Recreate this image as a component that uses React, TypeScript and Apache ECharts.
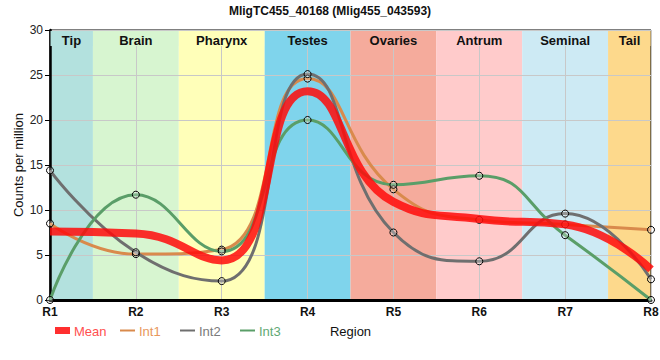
import React, { useEffect, useRef } from "react";
import * as echarts from "echarts";

const categories = ["R1", "R2", "R3", "R4", "R5", "R6", "R7", "R8"];
const meanValues = [7.6, 7.4, 4.4, 23.2, 10.9, 9.0, 8.4, 3.4];
const int1Values = [8.5, 5.1, 5.6, 24.6, 12.3, 8.9, 8.4, 7.8];
const int2Values = [14.4, 5.3, 2.1, 25.1, 7.5, 4.3, 9.6, 2.3];
const int3Values = [0, 11.7, 5.4, 20.0, 12.8, 13.8, 7.2, 0];
const regionNames = ["Tip", "Brain", "Pharynx", "Testes", "Ovaries", "Antrum", "Seminal", "Tail"];
const regionColors = ["#b3e1de", "#d7f5d0", "#ffffb9", "#7fd4ec", "#f5ab9c", "#ffcbcb", "#cdeaf4", "#fdd98c"];
const yTicks = { min: 0, max: 30, interval: 5 };

const FONT = "'Liberation Sans', Arial, sans-serif";
const lineColors = { mean: "rgba(255,10,10,0.85)", int1: "#d98a4c", int2: "#6f6f6f", int3: "#5a9e68" };
const textColors = { mean: "#ff4f4f", int1: "#e8975c", int2: "#7a7a7a", int3: "#5fa974" };

export default function App() {
  const ref = useRef<HTMLDivElement>(null);
  useEffect(() => {
    if (!ref.current) return;
    const chart = echarts.init(ref.current, null, { renderer: "svg" });
    const n = categories.length;
    const bandData = regionNames.map((name, i) => [Math.max(1, i + 0.5), Math.min(n, i + 1.5), i]);

    const bandRender = (header: boolean) => (params: any, api: any) => {
      const s = api.value(0);
      const e = api.value(1);
      const idx = api.value(2);
      const tl = api.coord([s, yTicks.max]);
      const br = api.coord([e, yTicks.min]);
      const color = regionColors[idx];
      if (!header) {
        return {
          type: "rect",
          shape: { x: tl[0], y: tl[1], width: br[0] - tl[0], height: br[1] - tl[1] },
          style: { fill: color },
        };
      }
      return {
        type: "group",
        children: [
          {
            type: "rect",
            shape: { x: tl[0] + 0.5, y: tl[1] + 1, width: br[0] - tl[0] - 1, height: 15 },
            style: { fill: color },
          },
          {
            type: "text",
            style: {
              text: regionNames[idx],
              x: (tl[0] + br[0]) / 2,
              y: tl[1] + 10,
              align: "center",
              verticalAlign: "middle",
              font: `bold 13px ${FONT}`,
              fill: "#111",
            },
          },
        ],
      };
    };

    const lineSeries = (name: string, data: number[], color: string, width: number, showSym: boolean) => ({
      name,
      type: "line",
      data: data.map((v, i) => [i + 1, v]),
      smooth: 0.5,
      z: 5,
      showSymbol: showSym,
      symbol: "circle",
      symbolSize: 7,
      itemStyle: { color: "rgba(255,255,255,0.25)", borderColor: "#000", borderWidth: 1 },
      lineStyle: { color, width, cap: "butt" },
      emphasis: { disabled: true },
      clip: false,
    });

    const legendItems = [
      { label: "Mean", color: lineColors.mean, tcolor: textColors.mean, x: 55, h: 7, tx: 74 },
      { label: "Int1", color: lineColors.int1, tcolor: textColors.int1, x: 120, h: 2, tx: 139 },
      { label: "Int2", color: lineColors.int2, tcolor: textColors.int2, x: 180, h: 2, tx: 199 },
      { label: "Int3", color: lineColors.int3, tcolor: textColors.int3, x: 240, h: 2, tx: 259 },
    ];
    const legendGraphics: any[] = [];
    legendItems.forEach((it) => {
      legendGraphics.push({
        type: "rect",
        shape: { x: it.x, y: 330.5 - it.h / 2, width: 15, height: it.h },
        style: { fill: it.color },
      });
      legendGraphics.push({
        type: "text",
        x: it.tx,
        y: 331,
        style: { text: it.label, fill: it.tcolor, font: `13px ${FONT}`, verticalAlign: "middle" },
      });
    });

    chart.setOption({
      animation: false,
      title: {
        text: "MligTC455_40168 (Mlig455_043593)",
        left: "center",
        top: 0,
        textStyle: { fontFamily: FONT, fontSize: 12, fontWeight: "bold", color: "#111" },
      },
      grid: {
        left: 50,
        right: 9,
        top: 30,
        bottom: 60,
        outerBoundsMode: "none",
        containLabel: false,
        show: true,
        borderColor: "#000",
        borderWidth: 1,
        backgroundColor: "transparent",
        z: 3,
      },
      xAxis: {
        type: "value",
        min: 1,
        max: n,
        interval: 1,
        z: 3,
        name: "Region",
        nameLocation: "middle",
        nameGap: 25,
        nameMoveOverlap: false,
        nameTextStyle: { fontFamily: FONT, fontSize: 13, color: "#111" },
        axisLine: { show: true, lineStyle: { color: "#000", width: 3 } },
        axisTick: { show: false },
        axisLabel: {
          margin: 6,
          fontFamily: FONT,
          fontSize: 12,
          fontWeight: "bold",
          color: "#111",
          formatter: (v: number) => categories[Math.round(v) - 1] ?? "",
        },
        splitLine: { show: true, lineStyle: { color: "#c8c8c8", width: 1 } },
      },
      yAxis: {
        type: "value",
        min: yTicks.min,
        max: yTicks.max,
        interval: yTicks.interval,
        z: 3,
        name: "Counts per million",
        nameLocation: "middle",
        nameGap: 25,
        nameMoveOverlap: false,
        nameTextStyle: { fontFamily: FONT, fontSize: 13, color: "#111" },
        axisLine: { show: true, lineStyle: { color: "#000", width: 2.5 } },
        axisTick: { show: true, length: 5, lineStyle: { color: "#000" } },
        axisLabel: { margin: 7, fontFamily: FONT, fontSize: 12, color: "#222" },
        splitLine: { show: true, lineStyle: { color: "#c8c8c8", width: 1 } },
      },
      series: [
        {
          type: "custom",
          name: "bands",
          data: bandData,
          z: 1,
          renderItem: bandRender(false),
          silent: true,
          clip: false,
        },
        {
          type: "custom",
          name: "headers",
          data: bandData,
          z: 4,
          renderItem: bandRender(true),
          silent: true,
          clip: false,
        },
        lineSeries("Int1", int1Values, lineColors.int1, 3, true),
        lineSeries("Int2", int2Values, lineColors.int2, 3, true),
        lineSeries("Int3", int3Values, lineColors.int3, 3, true),
        { ...lineSeries("Mean", meanValues, lineColors.mean, 8, false), z: 6 },
      ],
      graphic: legendGraphics,
    });
    return () => chart.dispose();
  }, []);
  return <div ref={ref} style={{ position: "absolute", left: 0, top: 0, width: 660, height: 360 }} />;
}
